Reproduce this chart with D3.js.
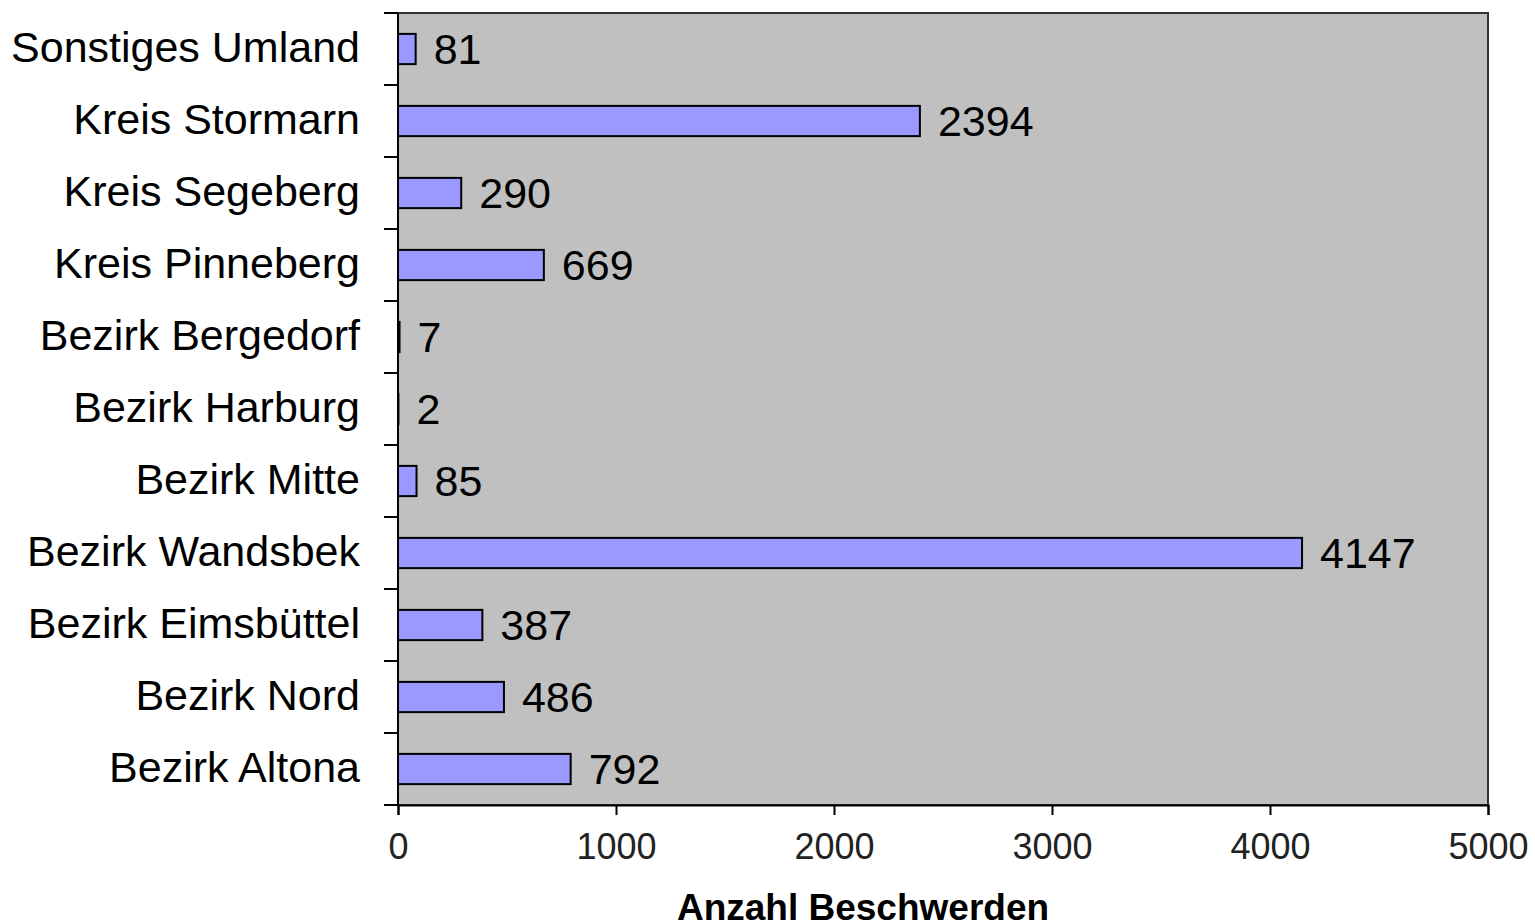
<!DOCTYPE html>
<html>
<head>
<meta charset="utf-8">
<script src="https://cdn.jsdelivr.net/npm/d3@7"></script>
<style>
  body { margin: 0; background: #fff; }
  text { font-family: "Liberation Sans", Arial, sans-serif; }
</style>
</head>
<body>
<svg width="1535" height="923"></svg>
<script>
// categories top to bottom, as in the picture
var categories = ["Sonstiges Umland", "Kreis Stormarn", "Kreis Segeberg", "Kreis Pinneberg",
  "Bezirk Bergedorf", "Bezirk Harburg", "Bezirk Mitte", "Bezirk Wandsbek",
  "Bezirk Eimsbüttel", "Bezirk Nord", "Bezirk Altona"];
var values = [81, 2394, 290, 669, 7, 2, 85, 4147, 387, 486, 792];
var xTicks = [0, 1000, 2000, 3000, 4000, 5000];
var xTitle = "Anzahl Beschwerden";

var svg = d3.select("svg");
var plotL = 398, plotR = 1488, plotT = 13, plotB = 805;

var x = d3.scaleLinear().domain([0, 5000]).range([plotL, plotR]);
var y = d3.scaleBand().domain(categories).range([plotT, plotB]).paddingInner(0.58).paddingOuter(0.29);

var data = categories.map(function(c, i) { return {cat: c, v: values[i]}; });

// plot background
svg.append("rect")
  .attr("x", plotL).attr("y", plotT)
  .attr("width", plotR - plotL).attr("height", plotB - plotT)
  .attr("fill", "#c0c0c0")
  .attr("stroke", "#333").attr("stroke-width", 2);

// bars
svg.append("g").selectAll("rect")
  .data(data)
  .enter().append("rect")
  .attr("x", x(0))
  .attr("y", function(d) { return y(d.cat); })
  .attr("width", function(d) { return x(d.v) - x(0); })
  .attr("height", y.bandwidth())
  .attr("fill", "#9999ff")
  .attr("stroke", "#000").attr("stroke-width", 2);

// value labels
svg.append("g").selectAll("text")
  .data(data)
  .enter().append("text")
  .attr("x", function(d) { return x(d.v) + 18; })
  .attr("y", function(d) { return y(d.cat) + y.bandwidth() / 2; })
  .attr("dy", "0.35em")
  .attr("font-size", 43)
  .attr("fill", "#000")
  .text(function(d) { return d.v; });

// category axis: ticks on the band borders
var yBorders = d3.range(categories.length + 1).map(function(i) { return plotT + i * (plotB - plotT) / categories.length; });
svg.append("g").selectAll("line")
  .data(yBorders)
  .enter().append("line")
  .attr("x1", plotL - 14).attr("x2", plotL)
  .attr("y1", function(d) { return d; }).attr("y2", function(d) { return d; })
  .attr("stroke", "#000").attr("stroke-width", 2);

svg.append("line")
  .attr("x1", plotL).attr("x2", plotL).attr("y1", plotT).attr("y2", plotB)
  .attr("stroke", "#000").attr("stroke-width", 2);

svg.append("g").selectAll("text")
  .data(categories)
  .enter().append("text")
  .attr("x", 360)
  .attr("y", function(d) { return y(d) + y.bandwidth() / 2; })
  .attr("dy", "0.3em")
  .attr("text-anchor", "end")
  .attr("font-size", 43)
  .attr("fill", "#000")
  .text(function(d) { return d; });

// value axis
var xAxis = d3.axisBottom(x).tickValues(xTicks).tickFormat(d3.format("d")).tickSize(10).tickPadding(18);
var gx = svg.append("g")
  .attr("transform", "translate(0," + plotB + ")")
  .call(xAxis);
gx.select(".domain").attr("stroke", "#000").attr("stroke-width", 2);
gx.selectAll(".tick line").attr("stroke", "#000").attr("stroke-width", 2);
gx.selectAll(".tick text")
  .attr("font-size", 36)
  .attr("font-family", "Liberation Sans, Arial, sans-serif")
  .attr("fill", "#222");

svg.append("text")
  .attr("x", 863).attr("y", 920)
  .attr("text-anchor", "middle")
  .attr("font-size", 37)
  .attr("font-weight", "bold")
  .attr("fill", "#000")
  .text(xTitle);
</script>
</body>
</html>
